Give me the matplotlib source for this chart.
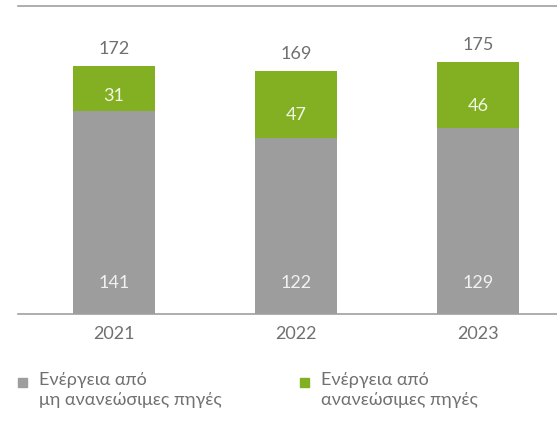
import matplotlib.pyplot as plt
from matplotlib.patches import Rectangle
import numpy as np

years = ['2021', '2022', '2023']
non_renewable = [141, 122, 129]
renewable = [31, 47, 46]
totals = [172, 169, 175]
legend_labels = ['Ενέργεια από\nμη ανανεώσιμες πηγές', 'Ενέργεια από\nανανεώσιμες πηγές']

gray = '#9d9d9d'
green = '#82b022'
text_col = '#707070'

plt.rcParams['font.family'] = ['Lato', 'DejaVu Sans']

W, H = 557, 431
fig = plt.figure(figsize=(W / 100, H / 100), dpi=100)
ax = fig.add_axes([18 / W, 116 / H, 1 - 18 / W, 308 / H])

x = np.arange(len(years))
w = 0.45
ax.bar(x, non_renewable, w, color=gray)
ax.bar(x, renewable, w, bottom=non_renewable, color=green)

for i in range(len(years)):
    ax.text(x[i], 22, str(non_renewable[i]), ha='center', va='center',
            fontsize=13, color='#f2f2f2')
    ax.text(x[i], non_renewable[i] + renewable[i] * 0.36, str(renewable[i]),
            ha='center', va='center', fontsize=13, color='#f2f6e6')
    ax.annotate(str(totals[i]), (x[i], non_renewable[i] + renewable[i]),
                xytext=(0, 13), textcoords='offset points', ha='center', va='center',
                fontsize=13, color=text_col)

ax.set_xlim(-0.527, 2.434)
ax.set_ylim(0, 214)
ax.set_xticks(x)
ax.set_xticklabels(years, fontsize=13, color=text_col)
ax.tick_params(axis='x', length=0, pad=8)
ax.set_yticks([])
for s in ['left', 'right']:
    ax.spines[s].set_visible(False)
for s in ['top', 'bottom']:
    ax.spines[s].set_color('#a0a0a0')
    ax.spines[s].set_linewidth(1.2)

# legend drawn by hand to match the two-line layout
leg_x = [18, 300]
colors = [gray, green]
for lx, c, lab in zip(leg_x, colors, legend_labels):
    fig.patches.append(Rectangle((lx / W, 1 - 388 / H), 9 / W, 9 / H,
                                 transform=fig.transFigure, color=c))
    fig.text((lx + 21) / W, 1 - 372 / H, lab, ha='left', va='top',
             fontsize=13, color=text_col, linespacing=1.3)

fig.savefig('out.png', dpi=100)
